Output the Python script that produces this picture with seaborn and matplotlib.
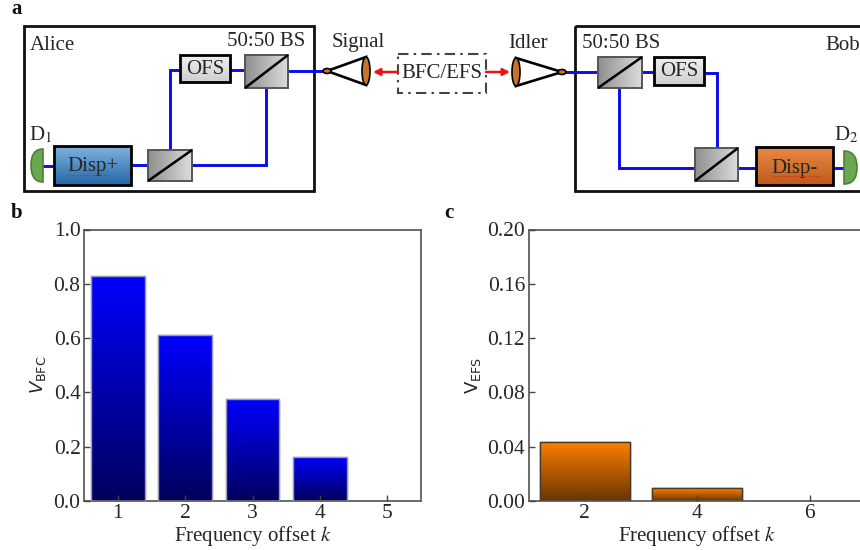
import numpy as np
import pandas as pd
import matplotlib
matplotlib.use("Agg")
import matplotlib.pyplot as plt
import seaborn as sns
from matplotlib.patches import Rectangle, Ellipse, Polygon, PathPatch
from matplotlib.path import Path
from matplotlib.colors import LinearSegmentedColormap

k_bfc = [1, 2, 3, 4, 5]
v_bfc = [0.83, 0.612, 0.377, 0.163, 0.0]
k_efs = [2, 4, 6]
v_efs = [0.0435, 0.0095, 0.0]
yticks_bfc = [0.0, 0.2, 0.4, 0.6, 0.8, 1.0]
yticks_efs = [0.00, 0.04, 0.08, 0.12, 0.16, 0.20]

sns.set_theme(style="ticks")
plt.rcParams["font.family"] = ["Liberation Serif", "DejaVu Serif"]
plt.rcParams["mathtext.fontset"] = "stix"

W, H = 860, 550
fig = plt.figure(figsize=(W / 100, H / 100), dpi=100, facecolor="white")

GREY = "#5f5f5f"
TXT = "#262626"
BLUE_CM = LinearSegmentedColormap.from_list("b", ["#00005c", "#0000ff"])
ORANGE_CM = LinearSegmentedColormap.from_list("o", ["#6a3500", "#ff8000"])


def panel(rect, xs, ys, cmap, edge, xlim, ylim, yticks, fmt, ylabel, lx):
    l, r, t, b = rect
    ax = fig.add_axes([l / W, (H - b) / H, (r - l) / W, (b - t) / H])
    df = pd.DataFrame({"k": xs, "v": ys})
    sns.barplot(data=df, x="k", y="v", native_scale=True, width=0.8,
                color="white", edgecolor=edge, linewidth=1.0, ax=ax, zorder=2)
    grad = np.linspace(1, 0, 256).reshape(-1, 1)
    for bar in ax.patches:
        h = bar.get_height()
        if h <= 0:
            bar.set_visible(False)
            continue
        x0 = bar.get_x()
        im = ax.imshow(grad, cmap=cmap, aspect="auto", vmin=0, vmax=1, zorder=2.5,
                       extent=(x0, x0 + bar.get_width(), 0, h))
        im.set_clip_path(bar)
        ax.add_patch(Rectangle((x0, 0), bar.get_width(), h, fill=False,
                               edgecolor=edge, lw=1.0, zorder=2.6))
    ax.set_xlim(*xlim)
    ax.set_ylim(*ylim)
    ax.set_yticks(yticks)
    ax.set_yticklabels([fmt.format(v) for v in yticks])
    ax.set_xticks(sorted(xs))
    ax.set_axisbelow(False)
    ax.tick_params(direction="in", length=4.5, width=1, color="#444444",
                   labelsize=15.5, labelcolor=TXT)
    ax.tick_params(axis="y", pad=2.5)
    ax.tick_params(axis="x", pad=2.5)
    ax.set_xlabel("Frequency offset $k$", fontsize=15, color=TXT, labelpad=0.2)
    ax.set_ylabel(ylabel, fontsize=13, color=TXT, math_fontfamily="dejavusans")
    ax.yaxis.set_label_coords((lx - l) / (r - l), (b - 375) / (b - t))
    for s in ax.spines.values():
        s.set_visible(True)
        s.set_color(GREY)
        s.set_linewidth(1.3)
    return ax


panel((84, 421, 229.5, 501), k_bfc, v_bfc, BLUE_CM, "#9a9ab8", (0.5, 5.5), (0, 1.0),
      yticks_bfc, "{:.1f}", r"$V_{\mathrm{BFC}}$", 48)
panel((528.5, 866, 229.5, 501), k_efs, v_efs, ORANGE_CM, "#4a3a2a", (1, 7), (0, 0.20),
      yticks_efs, "{:.2f}", r"$\mathrm{V}_{\mathrm{EFS}}$", 483)

# Schematic, in a full-figure overlay measured in picture pixels
d = fig.add_axes([0, 0, 1, 1], zorder=10)
d.set_xlim(0, W)
d.set_ylim(H, 0)
d.axis("off")
d.patch.set_alpha(0)


def gbox(x0, x1, y0, y1, c0, c1, ec="black", lw=2.0, horiz=False, z=3):
    cm = LinearSegmentedColormap.from_list("g", [c0, c1])
    g = np.linspace(0, 1, 64)
    g = g.reshape(1, -1) if horiz else g.reshape(-1, 1)
    d.imshow(g, cmap=cm, aspect="auto", extent=(x0, x1, y1, y0), zorder=z,
             origin="upper")
    d.add_patch(Rectangle((x0, y0), x1 - x0, y1 - y0, fill=False, ec=ec, lw=lw, zorder=z + 0.1))


def splitter(x0, x1, y0, y1):
    gbox(x0, x1, y0, y1, "#8f8f8f", "#dcdcdc", ec="#555555", lw=1.4, horiz=True)
    d.plot([x0, x1], [y1, y0], color="black", lw=1.8, zorder=4, solid_capstyle="butt")


def wire(xs, ys):
    d.plot(xs, ys, color="#0a0aee", lw=2.1, zorder=2, solid_joinstyle="miter")


def det(x_flat, x_round, y0, y1):
    ym = (y0 + y1) / 2
    verts = [(x_flat, y0), (x_round, y0), (x_round, ym), (x_round, y1), (x_flat, y1), (x_flat, y0)]
    codes = [Path.MOVETO, Path.CURVE3, Path.CURVE3, Path.CURVE3, Path.CURVE3, Path.CLOSEPOLY]
    d.add_patch(PathPatch(Path(verts, codes), fc="#6aa84f", ec="#4f7f3a", lw=1.2, zorder=3))


def coupler(x_tip, x_lens, y, half):
    d.add_patch(Polygon([(x_tip, y), (x_lens, y - half), (x_lens, y + half)], closed=True,
                        fc="white", ec="black", lw=1.9, zorder=3))
    d.add_patch(Ellipse((x_lens, y), 8, 2 * half, fc="#c8722a", ec="black", lw=1.2, zorder=4))
    d.add_patch(Ellipse((x_tip, y), 8, 5, fc="#c8722a", ec="black", lw=1.2, zorder=4))


def label(x, y, s, ha="center", va="center", **kw):
    kw.setdefault("fontsize", 15)
    kw.setdefault("color", TXT)
    d.text(x, y, s, ha=ha, va=va, **kw)


# Alice / Bob enclosures
d.add_patch(Rectangle((23.5, 25.5), 290, 165.5, fill=False, ec="#111111", lw=2.0, zorder=1))
d.add_patch(Rectangle((575, 26), 300, 165, fill=False, ec="#111111", lw=2.0, zorder=1))

# Wires
wire([43, 54], [166, 166])
wire([131, 148], [165, 165])
wire([192, 266, 266], [165, 165, 88])
wire([170, 170, 180], [150, 70, 70])
wire([230, 245], [70, 70])
wire([288, 325], [71, 71])
wire([566, 598], [72, 72])
wire([642, 654], [72, 72])
wire([704, 717, 717], [73, 73, 148])
wire([619, 619, 695], [88, 168, 168])
wire([738, 756], [168, 168])
wire([833, 844], [168, 168])

# Components
det(43, 31, 149, 182)
gbox(54, 131, 146, 185, "#7fb2dc", "#2468a8")
splitter(148, 192, 150, 181)
gbox(180, 230, 55, 82, "#f0f0f0", "#cfcfcf")
splitter(245, 288, 55, 88)
coupler(327, 366, 71, 14)
coupler(562, 516, 72, 14)
splitter(598, 642, 57, 88)
gbox(654, 704, 57, 85, "#f0f0f0", "#cfcfcf")
splitter(695, 738, 148, 181)
gbox(756, 833, 147, 185, "#e88a45", "#c05a18")
det(844, 857, 151, 184)

# BFC/EFS box and red arrows
d.add_patch(Rectangle((398, 54), 88, 39, fill=False, ec="#444444", lw=1.5,
                      ls=(0, (5, 2.5, 1.2, 2.5)), zorder=3))
arrow = dict(arrowstyle="-|>", color="#ee1111", lw=1.8, mutation_scale=10, shrinkA=0, shrinkB=0)
d.annotate("", xy=(373, 72), xytext=(398, 72), arrowprops=arrow, zorder=4)
d.annotate("", xy=(510, 72), xytext=(486, 72), arrowprops=arrow, zorder=4)

# Text
label(30, 45, "Alice", ha="left")
label(825, 45, "Bob", ha="left")
label(266, 42, "50:50 BS")
label(358, 42, "Signal")
label(528, 43, "Idler")
label(621, 44, "50:50 BS")
label(442, 73, "BFC/EFS")
label(205, 70, "OFS")
label(679, 71, "OFS")
label(93, 166, "Disp+")
label(795, 168, "Disp-")
label(41, 135, "D$_1$")
label(846, 135, "D$_2$")
d.plot([68, 107], [175, 175], color="#d02020", lw=0.8, ls=":", zorder=5)
d.plot([772, 820], [176, 176], color="#d02020", lw=0.8, ls=":", zorder=5)
label(17, 13.5, "a", va="baseline", fontsize=15, fontweight="bold", color="#111111")
label(17, 218, "b", va="baseline", fontsize=15, fontweight="bold", color="#111111")
label(449, 218, "c", va="baseline", fontsize=15, fontweight="bold", color="#111111")
d.set_xlim(0, W)
d.set_ylim(H, 0)

fig.savefig("out.png", dpi=100, facecolor="white")
